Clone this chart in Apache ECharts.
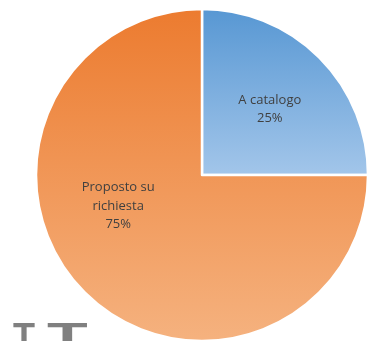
<!DOCTYPE html>
<html>
<head>
<meta charset="utf-8">
<script src="https://cdn.jsdelivr.net/npm/echarts@6/dist/echarts.min.js"></script>
<style>
  html, body { margin: 0; padding: 0; background: #ffffff; }
  #chart { width: 371px; height: 341px; }
</style>
</head>
<body>
<div id="chart"></div>
<script>
// Share of products: catalogue vs made to order
var categories = ['A catalogo', 'Proposto su\nrichiesta'];
var values = [25, 75];
var percentLabels = ['25%', '75%'];

var sliceColors = [
  { top: '#5797d3', bottom: '#a3c6ea' },
  { top: '#ec7b2f', bottom: '#f5b27f' }
];

var chart = echarts.init(document.getElementById('chart'), null, { renderer: 'canvas' });

var seriesData = categories.map(function (name, i) {
  return {
    name: name,
    value: values[i],
    itemStyle: {
      color: {
        type: 'linear', x: 0, y: 0, x2: 0, y2: 1,
        colorStops: [
          { offset: 0, color: sliceColors[i].top },
          { offset: 1, color: sliceColors[i].bottom }
        ]
      }
    }
  };
});

chart.setOption({
  animation: false,
  backgroundColor: '#ffffff',
  series: [{
    type: 'pie',
    center: [202, 175],
    radius: [0, 166],
    startAngle: 90,
    clockwise: true,
    data: seriesData,
    itemStyle: { borderColor: '#ffffff', borderWidth: 2.5 },
    label: {
      show: true,
      position: 'inside',
      fontFamily: 'Open Sans',
      fontSize: 13,
      lineHeight: 18.5,
      color: '#404040',
      formatter: function (p) { return p.name + '\n' + percentLabels[p.dataIndex]; }
    },
    labelLine: { show: false },
    labelLayout: function (p) {
      return p.dataIndex === 0 ? { dx: 7, dy: -5 } : { dx: -23, dy: -30 };
    }
  }],
  graphic: [
    {
      type: 'text', left: 13, top: 321, silent: true,
      style: { text: 'T', fontFamily: 'Liberation Sans', fontWeight: 'bold', fontSize: 36, fill: '#808080' }
    },
    {
      type: 'text', left: 47, top: 321, scaleX: 1.85, silent: true,
      style: { text: 'T', fontFamily: 'Liberation Sans', fontWeight: 'bold', fontSize: 36, fill: '#808080' }
    }
  ]
});
</script>
</body>
</html>
